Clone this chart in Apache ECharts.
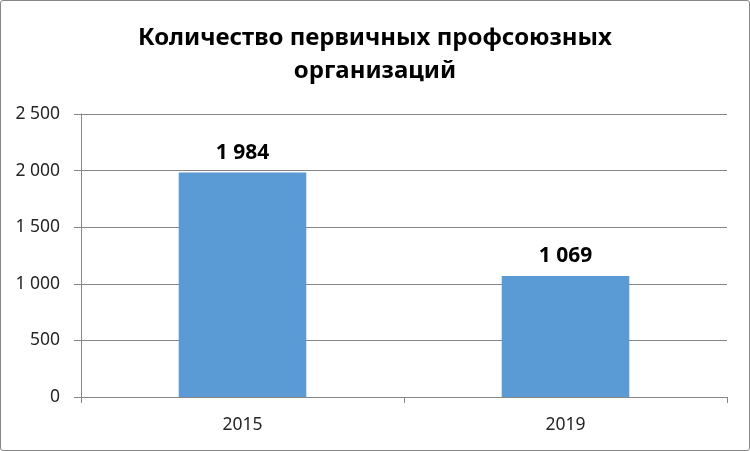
<!DOCTYPE html>
<html>
<head>
<meta charset="utf-8">
<script src="https://cdn.jsdelivr.net/npm/echarts@6/dist/echarts.min.js"></script>
<style>
  html, body { margin: 0; padding: 0; background: #fff; }
  .frame {
    width: 748px;
    height: 449px;
    border: 1px solid #868686;
    border-radius: 3px;
  }
  #chart { width: 748px; height: 449px; }
</style>
</head>
<body>
<div class="frame"><div id="chart"></div></div>
<script>
const titleText = 'Количество первичных профсоюзных\nорганизаций'
const years = ['2015', '2019']
const orgCount = [1984, 1069]
const yTicks = [0, 500, 1000, 1500, 2000, 2500]

function fmt(v) {
  return String(v).replace(/\B(?=(\d{3})+(?!\d))/g, ' ')
}

const chart = echarts.init(document.getElementById('chart'))

const option = {
  animation: false,
  textStyle: { fontFamily: '"Noto Sans", sans-serif' },
  title: {
    text: titleText,
    left: 'center',
    top: 16,
    textStyle: {
      fontSize: 24,
      fontWeight: 'bold',
      color: '#000',
      lineHeight: 33,
      fontFamily: '"Noto Sans", sans-serif'
    }
  },
  grid: {
    left: 80,
    right: 22,
    top: 113,
    bottom: 53
  },
  xAxis: {
    type: 'category',
    data: years,
    axisLine: { lineStyle: { color: '#868686', width: 1 } },
    axisTick: { show: true, length: 6, lineStyle: { color: '#868686' } },
    axisLabel: { color: '#262626', fontSize: 17.5, margin: 19 }
  },
  yAxis: {
    type: 'value',
    min: yTicks[0],
    max: yTicks[yTicks.length - 1],
    interval: 500,
    axisLine: { show: true, lineStyle: { color: '#868686', width: 1 } },
    axisTick: { show: true, length: 7, lineStyle: { color: '#868686' } },
    axisLabel: {
      color: '#262626',
      fontSize: 17.5,
      margin: 21,
      formatter: fmt
    },
    splitLine: { lineStyle: { color: '#868686', width: 1 } }
  },
  series: [
    {
      type: 'bar',
      data: orgCount,
      barWidth: '39.5%',
      itemStyle: { color: '#5B9BD5' },
      label: {
        show: true,
        position: 'top',
        distance: 9,
        color: '#000',
        fontSize: 21,
        fontWeight: 'bold',
        formatter: p => fmt(p.value)
      }
    }
  ]
}

chart.setOption(option)
</script>
</body>
</html>
